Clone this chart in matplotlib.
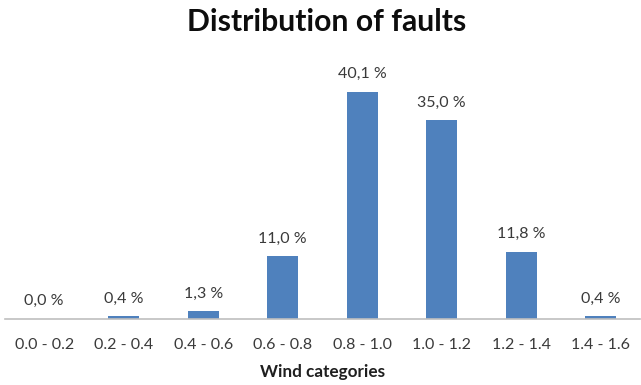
import matplotlib
matplotlib.use("Agg")
import matplotlib.pyplot as plt

categories = ["0.0 - 0.2", "0.2 - 0.4", "0.4 - 0.6", "0.6 - 0.8",
              "0.8 - 1.0", "1.0 - 1.2", "1.2 - 1.4", "1.4 - 1.6"]
shares = [0.0, 0.4, 1.3, 11.0, 40.1, 35.0, 11.8, 0.4]

plt.rcParams["font.family"] = ["Lato", "DejaVu Sans"]

W, H = 641, 385
fig = plt.figure(figsize=(W / 100, H / 100), dpi=100)
ax = fig.add_axes([4.5 / W, 1 - 318.5 / H, 636 / W, 254.7 / H])

x = list(range(len(categories)))
bars = ax.bar(x, shares, width=0.39, color="#4F81BD", zorder=2)

for xi, v in zip(x, shares):
    ax.annotate(f"{v:.1f}".replace(".", ",") + " %", (xi, v),
                xytext=(0, 12.5), textcoords="offset points",
                ha="center", va="center", fontsize=11.5, color="#3A3A3A")

ax.set_xlim(-0.5, len(categories) - 0.5)
ax.set_ylim(0, 45)
ax.set_xticks(x)
ax.set_xticklabels(categories, fontsize=11.5, color="#3A3A3A")
ax.tick_params(axis="x", length=0, pad=14)
ax.set_yticks([])
for side in ("top", "left", "right"):
    ax.spines[side].set_visible(False)
ax.spines["bottom"].set_color("#BFBFBF")
ax.spines["bottom"].set_linewidth(1.2)

ax.set_xlabel("Wind categories", fontsize=12.3, fontweight="bold",
              color="#1F1F1F", labelpad=9)

fig.text(327 / W, 1 - 22 / H, "Distribution of faults", ha="center",
         va="center", fontsize=21.7, fontweight="bold", color="#0D0D0D")

fig.savefig("out.png", dpi=100)
